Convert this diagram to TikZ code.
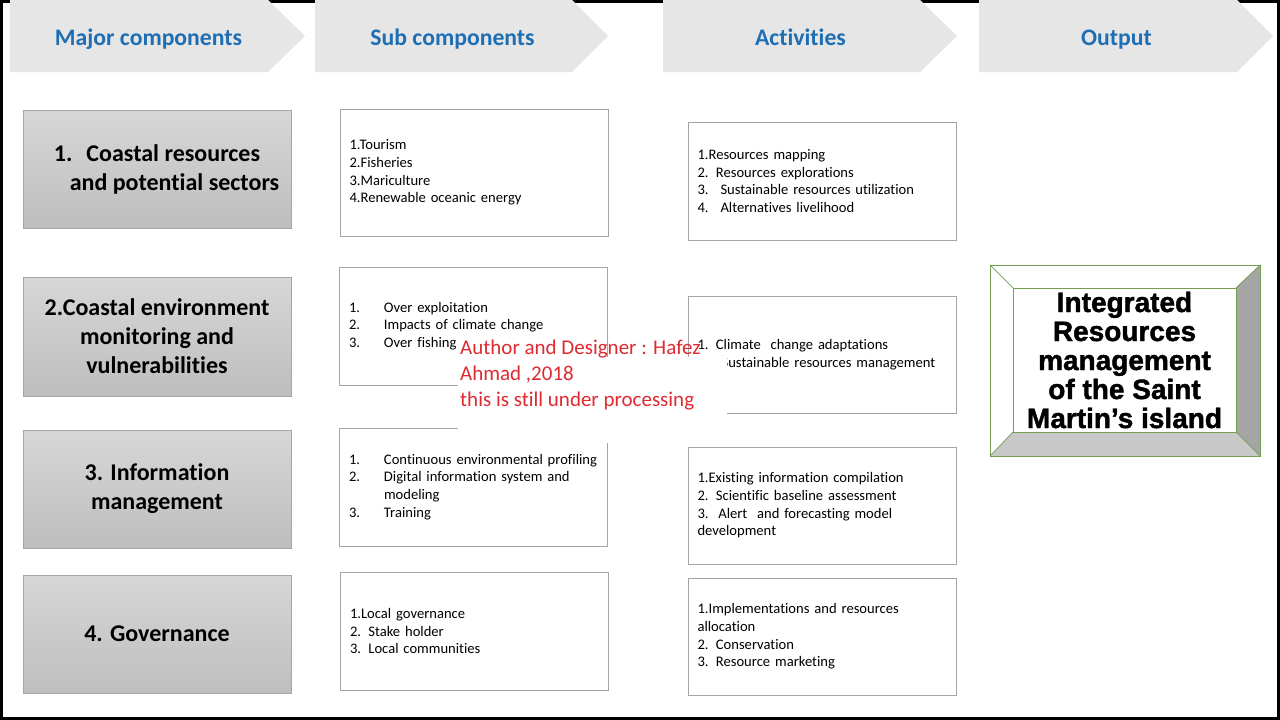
\documentclass[tikz,border=0pt]{standalone}
\usepackage{fontspec}
\setmainfont{Carlito}[Ligatures={NoCommon}]
\newfontfamily\outfont{Liberation Sans}[BoldFeatures={FakeBold=1.5}]
\definecolor{hdrfill}{RGB}{231,230,230}
\definecolor{hdrtext}{RGB}{30,110,180}
\definecolor{boxline}{RGB}{166,166,166}
\definecolor{grtop}{RGB}{215,215,215}
\definecolor{grbot}{RGB}{190,190,190}
\definecolor{bevgreen}{RGB}{112,160,80}
\definecolor{bevdark}{RGB}{165,165,165}
\definecolor{bevmid}{RGB}{200,200,200}
\definecolor{redtext}{RGB}{222,42,48}
\tikzset{
  hdrarrow/.style={fill=hdrfill, draw=none},
  hdr/.style={font=\fontsize{23.7}{28}\selectfont\bfseries, text=hdrtext, inner sep=0pt, anchor=base},
  major/.style={draw=boxline, line width=0.8pt, top color=grtop, bottom color=grbot,
    minimum width=268pt, minimum height=118pt, align=center,
    font=\fontsize{24}{29}\selectfont\bfseries, inner sep=0pt},
  listbox/.style={draw=boxline, line width=0.8pt, fill=white, text width=249pt,
    inner xsep=9.5pt, inner ysep=0pt, minimum height=118pt, align=left,
    font=\fontsize{14.6}{17.7}\selectfont},
  bevel/.style={draw=bevgreen, line width=0.7pt},
  note/.style={text=redtext, align=left, inner sep=0pt, font=\fontsize{21}{26}\selectfont}
}
\newcommand{\numA}[1]{\makebox[35pt][l]{#1}}
\newcommand{\numB}[1]{\makebox[23pt][l]{#1}}
\begin{document}
\begin{tikzpicture}[x=1pt,y=-1pt]
\useasboundingbox (0,0) rectangle (1280,720);
\fill[white] (0,0) rectangle (1280,720);
\draw[black, line width=3pt] (1.5,1.5) rectangle (1278.5,718.5);

% header arrows
\fill[hdrarrow] (10,0) -- (268,0) -- (305,36) -- (268,72) -- (10,72) -- cycle;
\fill[hdrarrow] (315,0) -- (572,0) -- (608,36) -- (572,72) -- (315,72) -- cycle;
\fill[hdrarrow] (663,0) -- (920,0) -- (957,36) -- (920,72) -- (663,72) -- cycle;
\fill[hdrarrow] (979,0) -- (1237,0) -- (1273,36) -- (1237,72) -- (979,72) -- cycle;
\node[hdr] (h1) at (148.5,45) {Major components};
\node[hdr] (h2) at (452.5,45) {Sub components};
\node[hdr] (h3) at (800.5,45) {Activities};
\node[hdr] (h4) at (1116.5,45) {Output};

% major components
\node[major] (m1) at (157,169) {1.\hspace{14pt}Coastal resources\\\hspace*{35pt}and potential sectors};
\node[major, minimum height=119pt] (m2) at (157,336.5) {2.Coastal environment\\monitoring and\\vulnerabilities};
\node[major] (m3) at (157,489) {3. Information\\management};
\node[major] (m4) at (157,634) {4. Governance};

% sub components
\node[listbox, minimum height=127pt] (s1) at (474,172.5) {1.Tourism\\2.Fisheries\\3.Mariculture\\4.Renewable oceanic energy};
\node[listbox] (s2) at (473.5,326) {\numA{1.}Over exploitation\\\numA{2.}Impacts of climate change\\\numA{3.}Over fishing};
\node[listbox] (s3) at (473.5,487) {\numA{1.}Continuous environmental profiling\\\numA{2.}Digital information system and\\\numA{}modeling\\\numA{3.}Training};
\node[listbox] (s4) at (474.5,631) {1.Local governance\\2. Stake holder\\3. Local communities};

% activities
\node[listbox] (a1) at (822,181) {1.Resources mapping\\2. Resources explorations\\\numB{3.}Sustainable resources utilization\\\numB{4.}Alternatives livelihood};
\node[listbox, minimum height=117pt] (a2) at (822,354.5) {1. Climate\ \ change adaptations\\2.\hspace{13pt}Sustainable resources management};
\node[listbox, minimum height=117pt] (a3) at (822,505.5) {1.Existing information compilation\\2. Scientific baseline assessment\\3.\ \ Alert\ \ and forecasting model\\development};
\node[listbox, minimum height=117pt] (a4) at (822,636.5) {1.Implementations and resources\\allocation\\2. Conservation\\3. Resource marketing};

% output bevel box
\fill[white] (990,265) -- (1260,265) -- (1236,288) -- (1013,288) -- cycle;
\fill[white] (990,265) -- (1013,288) -- (1013,432) -- (990,456) -- cycle;
\fill[bevdark] (1260,265) -- (1260,456) -- (1236,432) -- (1236,288) -- cycle;
\fill[bevmid] (990,456) -- (1260,456) -- (1236,432) -- (1013,432) -- cycle;
\draw[bevel] (990,265) rectangle (1260,456);
\draw[bevel] (990,265) -- (1013,288);
\draw[bevel] (1260,265) -- (1236,288);
\draw[bevel] (990,456) -- (1013,432);
\draw[bevel] (1260,456) -- (1236,432);
\node[bevel, fill=white, minimum width=223pt, minimum height=144pt, inner sep=0pt, align=center,
  font=\outfont\fontsize{28}{29}\selectfont\bfseries] (out) at (1124.5,360)
  {Integrated\\Resources\\management\\of the Saint\\Martin’s island};

% author note
\fill[white] (458,357) rectangle (727,443);
\node[note, anchor=base west] (note) at (460,406) {Author and Designer : Hafez\\Ahmad ,2018\\this is still under processing};
\end{tikzpicture}
\end{document}
